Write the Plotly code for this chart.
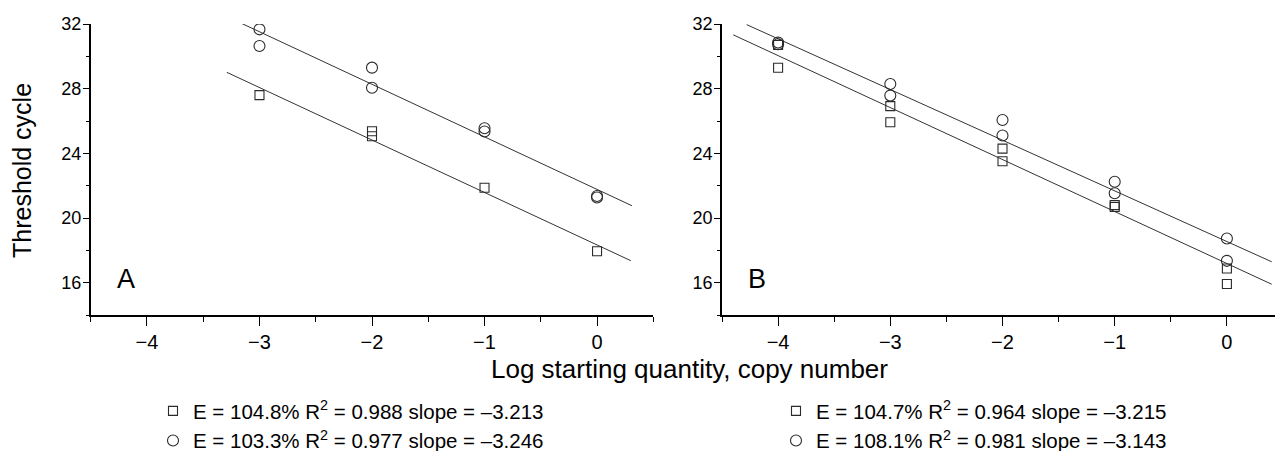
import plotly.graph_objects as go

# ---------------- data ----------------
# Panel A
A_sq_x = [-3, -2, -2, -1, 0]
A_sq_y = [27.6, 25.37, 25.06, 21.87, 17.94]
A_ci_x = [-3, -3, -2, -2, -1, -1, 0, 0]
A_ci_y = [31.67, 30.64, 29.3, 28.06, 25.55, 25.35, 21.36, 21.27]
A_sq_fit_x = [-3.29, 0.30]
A_sq_fit_y = [29.01, 17.36]
A_ci_fit_x = [-3.16, 0.31]
A_ci_fit_y = [32.04, 20.76]

# Panel B
B_sq_x = [-4, -4, -3, -3, -2, -2, -1, -1, 0, 0]
B_sq_y = [30.7, 29.29, 26.92, 25.92, 24.29, 23.51, 20.69, 20.8, 16.88, 15.92]
B_ci_x = [-4, -4, -3, -3, -2, -2, -1, -1, 0, 0]
B_ci_y = [30.85, 30.75, 28.29, 27.57, 26.06, 25.1, 22.24, 21.53, 18.73, 17.35]
B_sq_fit_x = [-4.40, 0.40]
B_sq_fit_y = [31.33, 15.90]
B_ci_fit_x = [-4.28, 0.40]
B_ci_fit_y = [31.96, 17.29]

A_labels = ["E = 104.8% R<sup>2</sup> = 0.988 slope = \u20133.213",
            "E = 103.3% R<sup>2</sup> = 0.977 slope = \u20133.246"]
B_labels = ["E = 104.7% R<sup>2</sup> = 0.964 slope = \u20133.215",
            "E = 108.1% R<sup>2</sup> = 0.981 slope = \u20133.143"]

x_ticks = [-4, -3, -2, -1, 0]
y_ticks = [16, 20, 24, 28, 32]
panel_letters = ["A", "B"]
x_title = "Log starting quantity, copy number"
y_title = "Threshold cycle"

# ---------------- styling ----------------
OFF = 8                      # default page margin of the html body
W, H = 1283 - OFF, 451 - OFF
FONT = "Liberation Sans, Arial, sans-serif"
INK = "#2a2a2a"


def px_x(p):
    return (p - OFF) / W


def px_y(p):
    return 1 - (p - OFF) / H


sq_marker = dict(symbol="square-open", size=9, color=INK, line=dict(width=1.1, color=INK))
ci_marker = dict(symbol="circle-open", size=11, color=INK, line=dict(width=1.1, color=INK))
fit_line = dict(color="#333333", width=1)

fig = go.Figure()

# fit lines
for fx, fy, xa, ya in [(A_sq_fit_x, A_sq_fit_y, "x", "y"), (A_ci_fit_x, A_ci_fit_y, "x", "y"),
                       (B_sq_fit_x, B_sq_fit_y, "x2", "y2"), (B_ci_fit_x, B_ci_fit_y, "x2", "y2")]:
    fig.add_trace(go.Scatter(x=fx, y=fy, mode="lines", line=fit_line, xaxis=xa, yaxis=ya,
                             showlegend=False, hoverinfo="skip"))

# markers
fig.add_trace(go.Scatter(x=A_sq_x, y=A_sq_y, mode="markers", marker=sq_marker, name=A_labels[0],
                         xaxis="x", yaxis="y", legend="legend"))
fig.add_trace(go.Scatter(x=A_ci_x, y=A_ci_y, mode="markers", marker=ci_marker, name=A_labels[1],
                         xaxis="x", yaxis="y", legend="legend"))
fig.add_trace(go.Scatter(x=B_sq_x, y=B_sq_y, mode="markers", marker=sq_marker, name=B_labels[0],
                         xaxis="x2", yaxis="y2", legend="legend2"))
fig.add_trace(go.Scatter(x=B_ci_x, y=B_ci_y, mode="markers", marker=ci_marker, name=B_labels[1],
                         xaxis="x2", yaxis="y2", legend="legend2"))

ydom = [px_y(315), px_y(24)]

xaxis_common = dict(
    range=[-4.5, 0.5], tickmode="array", tickvals=x_ticks,
    showline=True, linecolor="black", linewidth=1.5, mirror=False,
    ticks="outside", ticklen=9, tickwidth=1.3, tickcolor="black",
    minor=dict(dtick=0.5, tick0=0, ticks="outside", ticklen=5, tickwidth=1.2, tickcolor="black", showgrid=False),
    showgrid=False, zeroline=False,
    tickfont=dict(family=FONT, size=20, color="black"),
    ticklabelstandoff=-1, automargin=False,
)
yaxis_common = dict(
    range=[14, 32], tickmode="array", tickvals=y_ticks, domain=ydom,
    showline=True, linecolor="black", linewidth=1.5, mirror=False,
    ticks="outside", ticklen=6, tickwidth=1.3, tickcolor="black",
    minor=dict(dtick=2, tick0=0, ticks="outside", ticklen=3, tickwidth=1.2, tickcolor="black", showgrid=False),
    showgrid=False, zeroline=False,
    tickfont=dict(family=FONT, size=18, color="black"),
    ticklabelstandoff=-2, automargin=False,
)

legend_common = dict(
    font=dict(family=FONT, size=20.5, color="black"),
    bgcolor="rgba(0,0,0,0)", borderwidth=0,
    orientation="v", xanchor="left", yanchor="top", itemclick=False,
    tracegroupgap=0, xref="container", yref="container",
)

fig.update_layout(
    width=W, height=H,
    margin=dict(l=0, r=0, t=0, b=0, autoexpand=False),
    paper_bgcolor="white", plot_bgcolor="white",
    showlegend=True,
    xaxis=dict(domain=[px_x(90.7), px_x(653.3)], anchor="y", **xaxis_common),
    yaxis=dict(anchor="x", **yaxis_common),
    xaxis2=dict(domain=[px_x(722.0), 1.0], anchor="y2", **xaxis_common),
    yaxis2=dict(anchor="x2", **yaxis_common),
    legend=dict(x=px_x(153), y=px_y(391), **legend_common),
    legend2=dict(x=px_x(776), y=px_y(391), **legend_common),
    annotations=[
        dict(text=panel_letters[0], x=-4.19, y=16.2, xref="x", yref="y", showarrow=False,
             font=dict(family=FONT, size=27, color="black"), xanchor="center", yanchor="middle"),
        dict(text=panel_letters[1], x=-4.19, y=16.2, xref="x2", yref="y2", showarrow=False,
             font=dict(family=FONT, size=27, color="black"), xanchor="center", yanchor="middle"),
        dict(text=x_title, x=px_x(689.5), y=px_y(369.4), xref="paper", yref="paper", showarrow=False,
             font=dict(family=FONT, size=26, color="black"), xanchor="center", yanchor="middle"),
        dict(text=y_title, x=px_x(22), y=px_y(171), xref="paper", yref="paper", showarrow=False,
             textangle=-90, font=dict(family=FONT, size=25, color="black"),
             xanchor="center", yanchor="middle", borderpad=0),
    ],
)

fig.write_html("out.html")
